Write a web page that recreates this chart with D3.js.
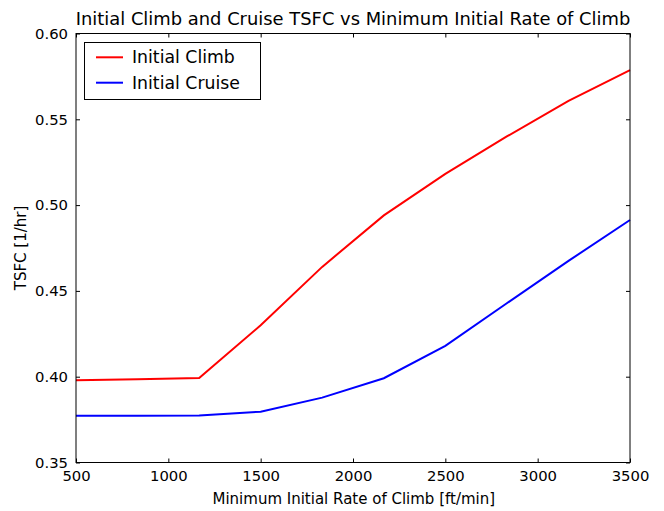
<!DOCTYPE html>
<html><head><meta charset="utf-8">
<script src="https://cdn.jsdelivr.net/npm/d3@7"></script>
<style>
body{margin:0;background:#fff;}
svg{display:block;font-family:"DejaVu Sans",sans-serif;}
</style></head>
<body>
<svg id="c" width="664" height="511"></svg>
<script>
const rateOfClimb = [500, 833, 1167, 1500, 1833, 2167, 2500, 2833, 3167, 3500];
const climbTSFC  = [0.3980, 0.3985, 0.3992, 0.4300, 0.4640, 0.4940, 0.5182, 0.5400, 0.5608, 0.5787];
const cruiseTSFC = [0.3772, 0.3773, 0.3774, 0.3796, 0.3878, 0.3991, 0.4180, 0.4428, 0.4675, 0.4913];
const xTicks = [500, 1000, 1500, 2000, 2500, 3000, 3500];
const yTicks = [0.35, 0.40, 0.45, 0.50, 0.55, 0.60];
const seriesNames = ["Initial Climb", "Initial Cruise"];
const seriesColors = ["#ff0000", "#0000ff"];

const L = 76, R = 630, T = 33.5, B = 462.5;
const svg = d3.select("#c");
const x = d3.scaleLinear().domain([500, 3500]).range([L, R]);
const y = d3.scaleLinear().domain([0.35, 0.60]).range([B, T]);

const tickFont = "14.8px";
const gx = svg.append("g").attr("transform", `translate(0,${B})`)
  .call(d3.axisBottom(x).tickValues(xTicks).tickFormat(d3.format("d")).tickSizeInner(-4).tickSizeOuter(0).tickPadding(8));
const gxt = svg.append("g").attr("transform", `translate(0,${T})`)
  .call(d3.axisTop(x).tickValues(xTicks).tickFormat("").tickSizeInner(-4).tickSizeOuter(0));
const gy = svg.append("g").attr("transform", `translate(${L},0)`)
  .call(d3.axisLeft(y).tickValues(yTicks).tickFormat(d3.format(".2f")).tickSizeInner(-4).tickSizeOuter(0).tickPadding(8));
const gyr = svg.append("g").attr("transform", `translate(${R},0)`)
  .call(d3.axisRight(y).tickValues(yTicks).tickFormat("").tickSizeInner(-4).tickSizeOuter(0));
[gx, gxt, gy, gyr].forEach(g => {
  g.select(".domain").remove();
  g.selectAll("line").attr("stroke", "#000").attr("stroke-width", 1);
  g.selectAll("text").attr("fill", "#000").style("font-size", tickFont).style("font-family", "DejaVu Sans");
});

const lineGen = d3.line().x((d, i) => x(rateOfClimb[i])).y(d => y(d));
[climbTSFC, cruiseTSFC].forEach((s, k) => {
  svg.append("path").datum(s).attr("d", lineGen).attr("fill", "none")
    .attr("stroke", seriesColors[k]).attr("stroke-width", 2).attr("stroke-linejoin", "miter");
});

svg.append("rect").attr("x", L).attr("y", T).attr("width", R - L).attr("height", B - T)
  .attr("fill", "none").attr("stroke", "#000").attr("stroke-width", 1);

svg.append("text").attr("x", (L + R) / 2).attr("y", 25).attr("text-anchor", "middle")
  .style("font-size", "17.9px").text("Initial Climb and Cruise TSFC vs Minimum Initial Rate of Climb");
svg.append("text").attr("x", (L + R) / 2 + 0.8).attr("y", 504).attr("text-anchor", "middle")
  .style("font-size", "15px").text("Minimum Initial Rate of Climb [ft/min]");
svg.append("text").attr("transform", `translate(25.5,${(T + B) / 2}) rotate(-90)`).attr("text-anchor", "middle")
  .style("font-size", "15px").text("TSFC [1/hr]");

const lg = svg.append("g");
lg.append("rect").attr("x", 84.5).attr("y", 42.5).attr("width", 176).attr("height", 57)
  .attr("fill", "#fff").attr("stroke", "#000").attr("stroke-width", 1);
seriesNames.forEach((n, k) => {
  const yy = 57.3 + k * 25.4;
  lg.append("line").attr("x1", 96).attr("x2", 123).attr("y1", yy).attr("y2", yy)
    .attr("stroke", seriesColors[k]).attr("stroke-width", 2);
  lg.append("text").attr("x", 132).attr("y", yy + 6).style("font-size", "17.3px").text(n);
});
</script>
</body></html>
